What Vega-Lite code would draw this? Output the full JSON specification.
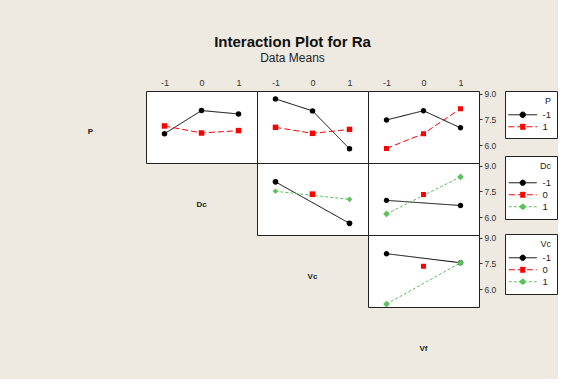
{
  "$schema": "https://vega.github.io/schema/vega-lite/v6.json",
  "background": "#EEEAE1",
  "padding": {"left": 35, "top": 34, "right": 0, "bottom": 0},
  "title": {
    "text": "Interaction Plot for Ra",
    "subtitle": "Data Means",
    "font": "Liberation Sans",
    "fontSize": 15,
    "fontWeight": "bold",
    "color": "#111111",
    "subtitleFont": "Liberation Sans",
    "subtitleFontSize": 12,
    "subtitleColor": "#222222",
    "subtitlePadding": 3,
    "anchor": "middle",
    "dx": -4,
    "offset": 14
  },
  "data": {
    "values": [
      {"trace": "P", "xf": "Dc", "tl": "-1", "x": -1, "y": 6.66},
      {"trace": "P", "xf": "Dc", "tl": "-1", "x": 0, "y": 8.01},
      {"trace": "P", "xf": "Dc", "tl": "-1", "x": 1, "y": 7.81},
      {"trace": "P", "xf": "Dc", "tl": "1", "x": -1, "y": 7.11},
      {"trace": "P", "xf": "Dc", "tl": "1", "x": 0, "y": 6.70},
      {"trace": "P", "xf": "Dc", "tl": "1", "x": 1, "y": 6.84},
      {"trace": "P", "xf": "Vc", "tl": "-1", "x": -1, "y": 8.69},
      {"trace": "P", "xf": "Vc", "tl": "-1", "x": 0, "y": 7.99},
      {"trace": "P", "xf": "Vc", "tl": "-1", "x": 1, "y": 5.78},
      {"trace": "P", "xf": "Vc", "tl": "1", "x": -1, "y": 7.03},
      {"trace": "P", "xf": "Vc", "tl": "1", "x": 0, "y": 6.68},
      {"trace": "P", "xf": "Vc", "tl": "1", "x": 1, "y": 6.91},
      {"trace": "P", "xf": "Vf", "tl": "-1", "x": -1, "y": 7.46},
      {"trace": "P", "xf": "Vf", "tl": "-1", "x": 0, "y": 8.00},
      {"trace": "P", "xf": "Vf", "tl": "-1", "x": 1, "y": 7.00},
      {"trace": "P", "xf": "Vf", "tl": "1", "x": -1, "y": 5.80},
      {"trace": "P", "xf": "Vf", "tl": "1", "x": 0, "y": 6.66},
      {"trace": "P", "xf": "Vf", "tl": "1", "x": 1, "y": 8.12},
      {"trace": "Dc", "xf": "Vc", "tl": "-1", "x": -1, "y": 8.05},
      {"trace": "Dc", "xf": "Vc", "tl": "-1", "x": 1, "y": 5.63},
      {"trace": "Dc", "xf": "Vc", "tl": "0", "x": 0, "y": 7.33},
      {"trace": "Dc", "xf": "Vc", "tl": "1", "x": -1, "y": 7.50},
      {"trace": "Dc", "xf": "Vc", "tl": "1", "x": 1, "y": 7.03},
      {"trace": "Dc", "xf": "Vf", "tl": "-1", "x": -1, "y": 6.97},
      {"trace": "Dc", "xf": "Vf", "tl": "-1", "x": 1, "y": 6.67},
      {"trace": "Dc", "xf": "Vf", "tl": "0", "x": 0, "y": 7.31},
      {"trace": "Dc", "xf": "Vf", "tl": "1", "x": -1, "y": 6.18},
      {"trace": "Dc", "xf": "Vf", "tl": "1", "x": 1, "y": 8.34},
      {"trace": "Vc", "xf": "Vf", "tl": "-1", "x": -1, "y": 8.06},
      {"trace": "Vc", "xf": "Vf", "tl": "-1", "x": 1, "y": 7.53},
      {"trace": "Vc", "xf": "Vf", "tl": "0", "x": 0, "y": 7.33},
      {"trace": "Vc", "xf": "Vf", "tl": "1", "x": -1, "y": 5.12},
      {"trace": "Vc", "xf": "Vf", "tl": "1", "x": 1, "y": 7.53}
    ]
  },
  "columns": 4,
  "spacing": 0,
  "bounds": "flush",
  "align": "all",
  "resolve": {
    "scale": {"color": "independent", "shape": "independent", "strokeDash": "independent"},
    "legend": {"color": "independent", "shape": "independent", "strokeDash": "independent"}
  },
  "concat": [
    {"width": 111, "height": 72, "data": {"values": [{"lab": "P"}]}, "mark": {"type": "text", "fontWeight": "bold", "fontSize": 8, "dy": 5, "color": "#222"}, "encoding": {"text": {"field": "lab"}}},
    {
      "width": 111, "height": 72,
      "view": {"fill": "white", "stroke": "#222222", "strokeWidth": 1},
      "transform": [{"filter": "datum.trace === 'P' && datum.xf === 'Dc'"}],
      "encoding": {
        "x": {"field": "x", "type": "quantitative", "scale": {"domain": [-1.5, 1.5], "nice": false, "zero": false}, "axis": {"orient": "top", "values": [-1, 0, 1], "labelExpr": "datum.value + ''", "title": null, "grid": false, "domain": false, "ticks": false, "labelPadding": 4, "labelFontSize": 9, "labelColor": "#333", "labelFont": "Liberation Sans"}},
        "y": {"field": "y", "type": "quantitative", "scale": {"domain": [4.95, 9.15], "nice": false, "zero": false}, "axis": null},
        "color": {"field": "tl", "type": "nominal", "scale": {"domain": ["-1", "1"], "range": ["#000000", "#FF0000"]}, "legend": null}
      },
      "layer": [
        {"mark": {"type": "line", "strokeWidth": 1}, "encoding": {"strokeDash": {"field": "tl", "type": "nominal", "scale": {"domain": ["-1", "1"], "range": [[1, 0], [6, 3]]}, "legend": null}}},
        {"mark": {"type": "point", "filled": true, "opacity": 1, "size": 30}, "encoding": {"shape": {"field": "tl", "type": "nominal", "scale": {"domain": ["-1", "1"], "range": ["circle", "square"]}, "legend": null}}}
      ]
    },
    {
      "width": 111, "height": 72,
      "view": {"fill": "white", "stroke": "#222222", "strokeWidth": 1},
      "transform": [{"filter": "datum.trace === 'P' && datum.xf === 'Vc'"}],
      "encoding": {
        "x": {"field": "x", "type": "quantitative", "scale": {"domain": [-1.5, 1.5], "nice": false, "zero": false}, "axis": {"orient": "top", "values": [-1, 0, 1], "labelExpr": "datum.value + ''", "title": null, "grid": false, "domain": false, "ticks": false, "labelPadding": 4, "labelFontSize": 9, "labelColor": "#333", "labelFont": "Liberation Sans"}},
        "y": {"field": "y", "type": "quantitative", "scale": {"domain": [4.95, 9.15], "nice": false, "zero": false}, "axis": null},
        "color": {"field": "tl", "type": "nominal", "scale": {"domain": ["-1", "1"], "range": ["#000000", "#FF0000"]}, "legend": null}
      },
      "layer": [
        {"mark": {"type": "line", "strokeWidth": 1}, "encoding": {"strokeDash": {"field": "tl", "type": "nominal", "scale": {"domain": ["-1", "1"], "range": [[1, 0], [6, 3]]}, "legend": null}}},
        {"mark": {"type": "point", "filled": true, "opacity": 1, "size": 30}, "encoding": {"shape": {"field": "tl", "type": "nominal", "scale": {"domain": ["-1", "1"], "range": ["circle", "square"]}, "legend": null}}}
      ]
    },
    {
      "width": 111, "height": 72,
      "view": {"fill": "white", "stroke": "#222222", "strokeWidth": 1},
      "transform": [{"filter": "datum.trace === 'P' && datum.xf === 'Vf'"}],
      "encoding": {
        "x": {"field": "x", "type": "quantitative", "scale": {"domain": [-1.5, 1.5], "nice": false, "zero": false}, "axis": {"orient": "top", "values": [-1, 0, 1], "labelExpr": "datum.value + ''", "title": null, "grid": false, "domain": false, "ticks": false, "labelPadding": 4, "labelFontSize": 9, "labelColor": "#333", "labelFont": "Liberation Sans"}},
        "y": {"field": "y", "type": "quantitative", "scale": {"domain": [4.95, 9.15], "nice": false, "zero": false}, "axis": {"orient": "right", "values": [6, 7.5, 9], "format": ".1f", "title": null, "grid": false, "domain": false, "ticks": true, "tickSize": 3, "tickColor": "#333", "labelPadding": 2, "labelFontSize": 8.5, "labelColor": "#333", "labelFont": "Liberation Sans"}},
        "color": {"field": "tl", "type": "nominal", "title": "P", "scale": {"domain": ["-1", "1"], "range": ["#000000", "#FF0000"]},
          "legend": {"orient": "none", "legendX": 137, "legendY": 0, "titlePadding": 4}
        }
      },
      "layer": [
        {"mark": {"type": "line", "strokeWidth": 1}, "encoding": {"strokeDash": {"field": "tl", "type": "nominal", "title": "P", "scale": {"domain": ["-1", "1"], "range": [[1, 0], [6, 3]]}}}},
        {"mark": {"type": "point", "filled": true, "opacity": 1, "size": 30}, "encoding": {"shape": {"field": "tl", "type": "nominal", "title": "P", "scale": {"domain": ["-1", "1"], "range": ["M-5.26,0H5.26M1,0A1,1,0,1,1,-1,0A1,1,0,1,1,1,0Z", "M-5.26,0H5.26M-0.91,-0.91H0.91V0.91H-0.91Z"]}}}}
      ]
    },
    {"width": 111, "height": 72, "data": {"values": []}, "mark": "point"},
    {"width": 111, "height": 72, "data": {"values": [{"lab": "Dc"}]}, "mark": {"type": "text", "fontWeight": "bold", "fontSize": 8, "dy": 6, "color": "#222"}, "encoding": {"text": {"field": "lab"}}},
    {
      "width": 111, "height": 72,
      "view": {"fill": "white", "stroke": "#222222", "strokeWidth": 1},
      "transform": [{"filter": "datum.trace === 'Dc' && datum.xf === 'Vc'"}],
      "encoding": {
        "x": {"field": "x", "type": "quantitative", "scale": {"domain": [-1.5, 1.5], "nice": false, "zero": false}, "axis": null},
        "y": {"field": "y", "type": "quantitative", "scale": {"domain": [4.95, 9.15], "nice": false, "zero": false}, "axis": null},
        "color": {"field": "tl", "type": "nominal", "scale": {"domain": ["-1", "0", "1"], "range": ["#000000", "#FF0000", "#5CC25C"]}, "legend": null}
      },
      "layer": [
        {"mark": {"type": "line", "strokeWidth": 1}, "encoding": {"strokeDash": {"field": "tl", "type": "nominal", "scale": {"domain": ["-1", "0", "1"], "range": [[1, 0], [6, 3], [3, 2]]}, "legend": null}}},
        {"mark": {"type": "point", "filled": true, "opacity": 1, "size": 32}, "encoding": {"shape": {"field": "tl", "type": "nominal", "scale": {"domain": ["-1", "0", "1"], "range": ["circle", "square", "diamond"]}, "legend": null}}}
      ]
    },
    {
      "width": 111, "height": 72,
      "view": {"fill": "white", "stroke": "#222222", "strokeWidth": 1},
      "transform": [{"filter": "datum.trace === 'Dc' && datum.xf === 'Vf'"}],
      "encoding": {
        "x": {"field": "x", "type": "quantitative", "scale": {"domain": [-1.5, 1.5], "nice": false, "zero": false}, "axis": null},
        "y": {"field": "y", "type": "quantitative", "scale": {"domain": [4.95, 9.15], "nice": false, "zero": false}, "axis": {"orient": "right", "values": [6, 7.5, 9], "format": ".1f", "title": null, "grid": false, "domain": false, "ticks": true, "tickSize": 3, "tickColor": "#333", "labelPadding": 2, "labelFontSize": 8.5, "labelColor": "#333", "labelFont": "Liberation Sans"}},
        "color": {"field": "tl", "type": "nominal", "title": "Dc", "scale": {"domain": ["-1", "0", "1"], "range": ["#000000", "#FF0000", "#5CC25C"]},
          "legend": {"orient": "none", "legendX": 137, "legendY": -7, "titlePadding": 7}
        }
      },
      "layer": [
        {"mark": {"type": "line", "strokeWidth": 1}, "encoding": {"strokeDash": {"field": "tl", "type": "nominal", "title": "Dc", "scale": {"domain": ["-1", "0", "1"], "range": [[1, 0], [6, 3], [3, 2]]}}}},
        {"mark": {"type": "point", "filled": true, "opacity": 1, "size": 32}, "encoding": {"shape": {"field": "tl", "type": "nominal", "title": "Dc", "scale": {"domain": ["-1", "0", "1"], "range": ["M-5.1,0H5.1M0.97,0A0.97,0.97,0,1,1,-0.97,0A0.97,0.97,0,1,1,0.97,0Z", "M-5.1,0H5.1M-0.88,-0.88H0.88V0.88H-0.88Z", "M-5.1,0H5.1M-1.2,0L0,-1.2L1.2,0L0,1.2Z"]}}}}
      ]
    },
    {"width": 111, "height": 72, "data": {"values": []}, "mark": "point"},
    {"width": 111, "height": 72, "data": {"values": []}, "mark": "point"},
    {"width": 111, "height": 72, "data": {"values": [{"lab": "Vc"}]}, "mark": {"type": "text", "fontWeight": "bold", "fontSize": 8, "dy": 6, "color": "#222"}, "encoding": {"text": {"field": "lab"}}},
    {
      "width": 111, "height": 72,
      "view": {"fill": "white", "stroke": "#222222", "strokeWidth": 1},
      "transform": [{"filter": "datum.trace === 'Vc' && datum.xf === 'Vf'"}],
      "encoding": {
        "x": {"field": "x", "type": "quantitative", "scale": {"domain": [-1.5, 1.5], "nice": false, "zero": false}, "axis": null},
        "y": {"field": "y", "type": "quantitative", "scale": {"domain": [4.95, 9.15], "nice": false, "zero": false}, "axis": {"orient": "right", "values": [6, 7.5, 9], "format": ".1f", "title": null, "grid": false, "domain": false, "ticks": true, "tickSize": 3, "tickColor": "#333", "labelPadding": 2, "labelFontSize": 8.5, "labelColor": "#333", "labelFont": "Liberation Sans"}},
        "color": {"field": "tl", "type": "nominal", "title": "Vc", "scale": {"domain": ["-1", "0", "1"], "range": ["#000000", "#FF0000", "#5CC25C"]},
          "legend": {"orient": "none", "legendX": 137, "legendY": -1, "titlePadding": 4}
        }
      },
      "layer": [
        {"mark": {"type": "line", "strokeWidth": 1}, "encoding": {"strokeDash": {"field": "tl", "type": "nominal", "title": "Vc", "scale": {"domain": ["-1", "0", "1"], "range": [[1, 0], [6, 3], [3, 2]]}}}},
        {"mark": {"type": "point", "filled": true, "opacity": 1, "size": 32}, "encoding": {"shape": {"field": "tl", "type": "nominal", "title": "Vc", "scale": {"domain": ["-1", "0", "1"], "range": ["M-5.1,0H5.1M0.97,0A0.97,0.97,0,1,1,-0.97,0A0.97,0.97,0,1,1,0.97,0Z", "M-5.1,0H5.1M-0.88,-0.88H0.88V0.88H-0.88Z", "M-5.1,0H5.1M-1.2,0L0,-1.2L1.2,0L0,1.2Z"]}}}}
      ]
    },
    {"width": 111, "height": 72, "data": {"values": []}, "mark": "point"},
    {"width": 111, "height": 72, "data": {"values": []}, "mark": "point"},
    {"width": 111, "height": 72, "data": {"values": []}, "mark": "point"},
    {"width": 111, "height": 72, "data": {"values": [{"lab": "Vf"}]}, "mark": {"type": "text", "fontWeight": "bold", "fontSize": 8, "dy": 6, "color": "#222"}, "encoding": {"text": {"field": "lab"}}}
  ],
  "config": {
    "view": {"stroke": null},
    "font": "Liberation Sans",
    "legend": {
      "fillColor": "white",
      "strokeColor": "#222222",
      "padding": 6,
      "symbolSize": 30,
      "symbolOffset": 7,
      "labelOffset": 15,
      "symbolStrokeWidth": 1,
      "rowPadding": 1,
      "titleAnchor": "end",
      "titleFontSize": 9,
      "titleFontWeight": "normal",
      "titleColor": "#222222",
      "titleFont": "Liberation Sans",
      "labelFontSize": 9.5,
      "labelColor": "#222222",
      "labelFont": "Liberation Sans"
    }
  }
}
